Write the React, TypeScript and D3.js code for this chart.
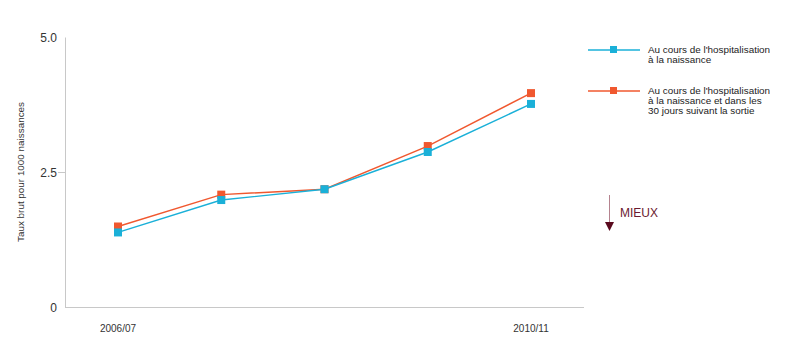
import React from "react";
import * as d3 from "d3";

const categories = ["2006/07", "2007/08", "2008/09", "2009/10", "2010/11"];
const xTickLabels = ["2006/07", "", "", "", "2010/11"];
const seriesBirth = [1.39, 1.99, 2.19, 2.88, 3.77];
const seriesBirth30 = [1.5, 2.09, 2.19, 2.99, 3.97];
const yTicks = [0, 2.5, 5];
const yTickLabels = ["0", "2.5", "5.0"];
const legendBirth = ["Au cours de l'hospitalisation", "à la naissance"];
const legendBirth30 = ["Au cours de l'hospitalisation", "à la naissance et dans les", "30 jours suivant la sortie"];
const yTitle = "Taux brut pour 1000 naissances";
const betterLabel = "MIEUX";

const BLUE = "#1ab0d8";
const ORANGE = "#f0582f";
const FONT = "'Liberation Sans', Arial, Helvetica, sans-serif";

export default function App() {
  const W = 800, H = 358;
  const x = d3.scalePoint<string>().domain(categories).range([118, 531]);
  const y = d3.scaleLinear().domain([0, 5]).range([307.5, 37.5]);
  const line = d3.line<number>().x((_, i) => x(categories[i]) as number).y((d) => y(d));

  const series = [
    { values: seriesBirth30, color: ORANGE },
    { values: seriesBirth, color: BLUE },
  ];

  return (
    <svg width={W} height={H} style={{ position: "absolute", left: 0, top: 0, background: "#fff" }} fontFamily={FONT}>
      {/* axes */}
      <line x1={65.5} x2={65.5} y1={y(5)} y2={y(0)} stroke="#c8c8c8" strokeWidth={1} />
      <line x1={65} x2={584} y1={y(0)} y2={y(0)} stroke="#c8c8c8" strokeWidth={1} />
      {yTicks.map((t, i) => (
        <g key={t}>
          {t === 2.5 && <line x1={58} x2={65} y1={y(t)} y2={y(t)} stroke="#c8c8c8" />}
          <text x={57} y={y(t)} dy="0.35em" textAnchor="end" fontSize={12} fill="#333">
            {yTickLabels[i]}
          </text>
        </g>
      ))}
      {categories.map((c, i) =>
        xTickLabels[i] ? (
          <text key={c} x={x(c)} y={328} dy="0.35em" textAnchor="middle" fontSize={10} fill="#333">
            {xTickLabels[i]}
          </text>
        ) : null
      )}
      <text transform={`translate(21,172) rotate(-90)`} textAnchor="middle" fontSize={9.5} dy="0.35em" fill="#333"
        textLength={140} lengthAdjust="spacingAndGlyphs">
        {yTitle}
      </text>

      {series.map((s, si) => (
        <g key={si}>
          <path d={line(s.values) || ""} fill="none" stroke={s.color} strokeWidth={1.4} />
          {s.values.map((v, i) => (
            <rect key={i} x={(x(categories[i]) as number) - 4} y={y(v) - 4} width={8} height={8} fill={s.color} />
          ))}
        </g>
      ))}

      {/* legend */}
      <g>
        <line x1={588} x2={640} y1={50} y2={50} stroke={BLUE} strokeWidth={1.4} />
        <rect x={610} y={46} width={7} height={7} fill={BLUE} />
        {legendBirth.map((t, i) => (
          <text key={i} x={648} y={50 + i * 10} dy="0.35em" fontSize={9.9} fill="#222">{t}</text>
        ))}
        <line x1={588} x2={640} y1={91} y2={91} stroke={ORANGE} strokeWidth={1.4} />
        <rect x={610} y={87} width={7} height={7} fill={ORANGE} />
        {legendBirth30.map((t, i) => (
          <text key={i} x={648} y={91 + i * 10} dy="0.35em" fontSize={9.9} fill="#222">{t}</text>
        ))}
      </g>

      {/* better arrow */}
      <g>
        <line x1={609.5} x2={609.5} y1={195} y2={224} stroke="#b5838f" strokeWidth={1} />
        <path d="M605,222 L614,222 L609.5,231 Z" fill="#5a0a1e" />
        <text x={620} y={213} dy="0.35em" fontSize={12} fill="#6b1a30">{betterLabel}</text>
      </g>
    </svg>
  );
}
